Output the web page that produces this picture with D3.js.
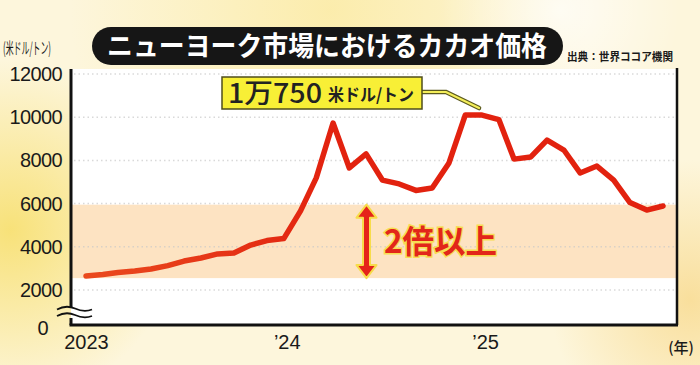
<!DOCTYPE html>
<html>
<head>
<meta charset="utf-8">
<script src="https://cdn.jsdelivr.net/npm/d3@7"></script>
<style>
  html, body { margin: 0; padding: 0; background: #fdf5d2; }
  svg { display: block; font-family: "Noto Sans CJK JP", "Noto Sans", sans-serif; }
</style>
</head>
<body>
<svg id="chart"></svg>
<script>
// monthly price, New York cocoa (USD / t)
var months = ['2023-01','2023-02','2023-03','2023-04','2023-05','2023-06',
              '2023-07','2023-08','2023-09','2023-10','2023-11','2023-12',
              '2024-01','2024-02','2024-03','2024-04','2024-05','2024-06',
              '2024-07','2024-08','2024-09','2024-10','2024-11','2024-12',
              '2025-01','2025-02','2025-03','2025-04','2025-05','2025-06',
              '2025-07','2025-08','2025-09','2025-10','2025-11','2025-12'];
var prices = [2650, 2720, 2810, 2880, 2970, 3130, 3340, 3480, 3670, 3710, 4080, 4290,
              4380, 5660, 7190, 9730, 7650, 8300, 7090, 6910, 6610, 6720, 7880, 10100,
              10100, 9890, 8060, 8160, 8940, 8480, 7420, 7740, 7090, 6050, 5700, 5890];
var yTicks = [0, 2000, 4000, 6000, 8000, 10000, 12000];
var gridTicks = [2000, 4000, 6000, 8000, 10000, 12000];
var xTicks = ['2023-01', '2024-01', '2025-01'];
var xTickLabels = ['2023', '\u201924', '\u201925'];
var band = [2550, 5950];       // shaded range
var peakIndex = 24;            // point the callout points at

var title = 'ニューヨーク市場におけるカカオ価格';
var unitLabel = '(米ドル/トン)';
var sourceLabel = '出典：世界ココア機関';
var calloutNum = '1万750';
var calloutUnit = '米ドル/トン';
var bandLabel = '2倍以上';
var yearLabel = '(年)';

var width = 700, height = 365;
var plotLeft = 71, plotRight = 677, plotTop = 69;

var parse = d3.timeParse('%Y-%m');
var data = months.map(function(m, i) { return {date: parse(m), value: prices[i]}; });

var x = d3.scaleTime()
    .domain([parse(months[0]), parse(months[months.length - 1])])
    .range([86, 663]);
// broken axis: 0..2000 squeezed
var y = d3.scaleLinear()
    .domain([0, 2000, 12000])
    .range([325, 290, 74]);

var svg = d3.select('#chart').attr('width', width).attr('height', height);
var defs = svg.append('defs');

// background
function radial(id, cx, cy, r, color, op) {
    var g = defs.append('radialGradient').attr('id', id)
        .attr('gradientUnits', 'userSpaceOnUse')
        .attr('cx', cx).attr('cy', cy).attr('r', r);
    g.append('stop').attr('offset', '0%').attr('stop-color', color).attr('stop-opacity', op);
    g.append('stop').attr('offset', '100%').attr('stop-color', color).attr('stop-opacity', 0);
}
radial('bgL', 10, 230, 170, '#f7df6e', 0.9);
radial('bgT', 330, 10, 260, '#fbeaa0', 0.8);
radial('bgR', 690, 300, 140, '#f8d98c', 0.8);
radial('bgW', 560, 10, 120, '#ffffff', 0.7);
svg.append('rect').attr('width', width).attr('height', height).attr('fill', '#fdf6dc');
['bgL', 'bgT', 'bgR', 'bgW'].forEach(function(id) {
    svg.append('rect').attr('width', width).attr('height', height).attr('fill', 'url(#' + id + ')');
});

// plot area
svg.append('rect')
    .attr('x', plotLeft).attr('y', plotTop)
    .attr('width', plotRight - plotLeft).attr('height', y(0) - plotTop)
    .attr('fill', '#ffffff');

svg.append('rect')
    .attr('x', plotLeft + 1).attr('y', y(band[1]))
    .attr('width', plotRight - plotLeft - 2).attr('height', y(band[0]) - y(band[1]))
    .attr('fill', '#fde3c2');

svg.append('g').selectAll('line')
    .data(gridTicks)
    .enter().append('line')
    .attr('x1', plotLeft + 3).attr('x2', plotRight - 2)
    .attr('y1', function(d) { return y(d); })
    .attr('y2', function(d) { return y(d); })
    .attr('stroke', '#c9c9c9')
    .attr('stroke-opacity', 0.7)
    .attr('stroke-width', 1.5)
    .attr('stroke-dasharray', '1.5,3');

// frame
var frame = svg.append('g').attr('stroke', '#111').attr('fill', 'none');
frame.append('line').attr('x1', plotLeft).attr('x2', plotLeft).attr('y1', plotTop).attr('y2', 307).attr('stroke-width', 3);
frame.append('line').attr('x1', plotLeft).attr('x2', plotLeft).attr('y1', 318).attr('y2', y(0)).attr('stroke-width', 3);
frame.append('line').attr('x1', plotLeft - 1.5).attr('x2', plotRight + 1).attr('y1', y(0)).attr('y2', y(0)).attr('stroke-width', 3);
frame.append('line').attr('x1', plotRight).attr('x2', plotRight).attr('y1', plotTop - 1).attr('y2', y(0)).attr('stroke-width', 2.5);
// axis break marks
[309.5, 316].forEach(function(yy) {
    frame.append('path')
        .attr('d', 'M57,' + yy + ' q9,-5 18,-1 t17,1')
        .attr('stroke-width', 1.8);
});

// axes
var yAxis = svg.append('g')
    .attr('transform', 'translate(' + plotLeft + ',0)')
    .call(d3.axisLeft(y).tickValues(yTicks).tickSize(0).tickPadding(9).tickFormat(d3.format('d')));
yAxis.select('.domain').remove();
yAxis.selectAll('text')
    .attr('font-family', '"Liberation Sans", Arial, sans-serif')
    .attr('font-size', 20).attr('fill', '#1a1a1a')
    .attr('letter-spacing', -0.6);
yAxis.selectAll('.tick').filter(function(d) { return d === 0; }).select('text')
    .attr('dy', '0.45em').attr('dx', -14);

var xAxis = svg.append('g')
    .attr('transform', 'translate(0,' + y(0) + ')')
    .call(d3.axisBottom(x)
        .tickValues(xTicks.map(parse))
        .tickSize(0).tickPadding(10)
        .tickFormat(function(d, i) { return xTickLabels[i]; }));
xAxis.select('.domain').remove();
xAxis.selectAll('text')
    .attr('font-family', '"Liberation Sans", Arial, sans-serif')
    .attr('font-size', 20).attr('fill', '#1a1a1a');
xAxis.selectAll('.tick').filter(function(d, i) { return i > 0; }).select('text').attr('dx', 3);

svg.append('text')
    .attr('x', 681).attr('y', 353)
    .attr('text-anchor', 'middle')
    .attr('font-size', 15).attr('font-weight', 500).attr('fill', '#1a1a1a')
    .text(yearLabel);

// line
var grad = defs.append('linearGradient').attr('id', 'lineGrad')
    .attr('gradientUnits', 'userSpaceOnUse')
    .attr('x1', x(data[0].date)).attr('x2', x(data[15].date)).attr('y1', 0).attr('y2', 0);
grad.append('stop').attr('offset', '0%').attr('stop-color', '#ea4a1e');
grad.append('stop').attr('offset', '100%').attr('stop-color', '#e2220f');

var line = d3.line()
    .x(function(d) { return x(d.date); })
    .y(function(d) { return y(d.value); });

svg.append('path')
    .datum(data)
    .attr('d', line)
    .attr('fill', 'none')
    .attr('stroke', 'url(#lineGrad)')
    .attr('stroke-width', 5.5)
    .attr('stroke-linejoin', 'round')
    .attr('stroke-linecap', 'round');

// double arrow over band
var ax = 366.5, aTop = y(band[1]), aBot = y(band[0]);
var hh = 13, hw = 10, sw = 3.5;
var arrowPts = [
    [ax, aTop], [ax + hw, aTop + hh], [ax + sw, aTop + hh], [ax + sw, aBot - hh],
    [ax + hw, aBot - hh], [ax, aBot], [ax - hw, aBot - hh], [ax - sw, aBot - hh],
    [ax - sw, aTop + hh], [ax - hw, aTop + hh]
];
svg.append('polygon')
    .attr('points', arrowPts.map(function(p) { return p.join(','); }).join(' '))
    .attr('fill', '#e5231a')
    .attr('stroke', '#f7dc4a')
    .attr('stroke-width', 2)
    .attr('stroke-linejoin', 'round');

svg.append('text')
    .attr('x', 384).attr('y', (aTop + aBot) / 2 + 12)
    .attr('font-size', 32).attr('font-weight', 700)
    .attr('fill', '#e2261a')
    .attr('stroke', '#f7dd52').attr('stroke-width', 3)
    .attr('paint-order', 'stroke')
    .attr('textLength', 113).attr('lengthAdjust', 'spacingAndGlyphs')
    .text(bandLabel);

// callout
var peak = data[peakIndex];
var px = x(peak.date), py = y(peak.value);
var leader = [[422, 92], [446, 92], [px - 3, py - 7]];
svg.append('polyline')
    .attr('points', leader.map(function(p) { return p.join(','); }).join(' '))
    .attr('fill', 'none').attr('stroke', '#5c5a1e').attr('stroke-width', 4.5)
    .attr('stroke-linecap', 'round');
svg.append('polyline')
    .attr('points', leader.map(function(p) { return p.join(','); }).join(' '))
    .attr('fill', 'none').attr('stroke', '#f4ee5a').attr('stroke-width', 2.2)
    .attr('stroke-linecap', 'round');

svg.append('rect')
    .attr('x', 222).attr('y', 77).attr('width', 200).attr('height', 32)
    .attr('fill', '#f8ef36').attr('stroke', '#4f4d1c').attr('stroke-width', 1.5);
svg.append('text')
    .attr('x', 228).attr('y', 103)
    .attr('font-size', 27).attr('font-weight', 500).attr('fill', '#222')
    .attr('textLength', 94).attr('lengthAdjust', 'spacingAndGlyphs')
    .text(calloutNum);
svg.append('text')
    .attr('x', 328).attr('y', 101)
    .attr('font-size', 17).attr('font-weight', 700).attr('fill', '#222')
    .attr('textLength', 86).attr('lengthAdjust', 'spacingAndGlyphs')
    .text(calloutUnit);

// title
svg.append('rect')
    .attr('x', 92).attr('y', 27).attr('width', 471).attr('height', 38)
    .attr('rx', 19).attr('fill', '#161616');
svg.append('text')
    .attr('x', 327).attr('y', 56)
    .attr('text-anchor', 'middle')
    .attr('font-size', 27).attr('font-weight', 700).attr('fill', '#ffffff')
    .attr('textLength', 440).attr('lengthAdjust', 'spacingAndGlyphs')
    .text(title);

svg.append('text')
    .attr('x', 3).attr('y', 54)
    .attr('font-size', 16).attr('fill', '#1a1a1a')
    .attr('textLength', 48).attr('lengthAdjust', 'spacingAndGlyphs')
    .text(unitLabel);

svg.append('text')
    .attr('x', 567).attr('y', 61)
    .attr('font-size', 11).attr('font-weight', 700).attr('fill', '#1a1a1a')
    .attr('textLength', 106).attr('lengthAdjust', 'spacingAndGlyphs')
    .text(sourceLabel);
</script>
</body>
</html>
